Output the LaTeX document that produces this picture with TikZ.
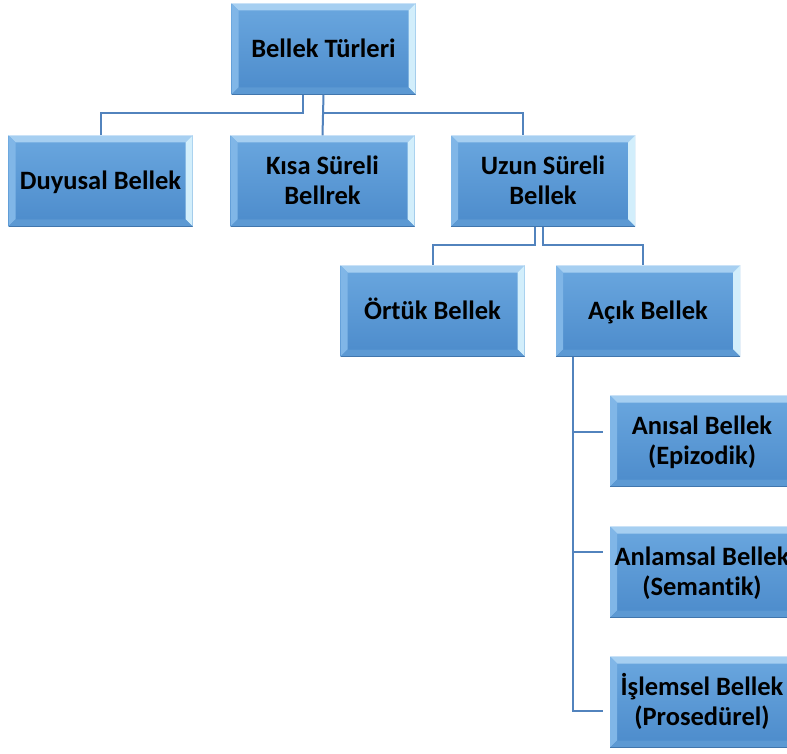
\documentclass[tikz,border=0pt]{standalone}
\usepackage{fontspec}
\setmainfont[RawFeature=-liga]{Carlito}
\definecolor{facetop}{HTML}{6AA7DF}
\definecolor{facebot}{HTML}{4C8BCB}
\definecolor{bvtop}{HTML}{A6CFF1}
\definecolor{bvleft}{HTML}{80B6E7}
\definecolor{bvright}{HTML}{D2EEFB}
\definecolor{bvbot}{HTML}{5C99D3}
\definecolor{conncol}{HTML}{5283BD}
\newcommand\bvbb{path picture bounding box}
\newcommand\lnst{\vphantom{Öçy()}}
\tikzset{
  membox/.style={rectangle, inner sep=0pt, minimum width=184pt, minimum height=91pt,
    align=center, font=\fontsize{26.5}{30}\selectfont\bfseries,
    top color=facetop, bottom color=facebot,
    path picture={
      \fill[bvtop] (\bvbb.north west) -- (\bvbb.north east) -- ([shift={(-7pt,-7pt)}]\bvbb.north east) -- ([shift={(7pt,-7pt)}]\bvbb.north west) -- cycle;
      \fill[bvleft] (\bvbb.north west) -- ([shift={(7pt,-7pt)}]\bvbb.north west) -- ([shift={(7pt,7pt)}]\bvbb.south west) -- (\bvbb.south west) -- cycle;
      \fill[bvright] (\bvbb.north east) -- ([shift={(-7pt,-7pt)}]\bvbb.north east) -- ([shift={(-7pt,7pt)}]\bvbb.south east) -- (\bvbb.south east) -- cycle;
      \fill[bvbot] (\bvbb.south west) -- ([shift={(7pt,7pt)}]\bvbb.south west) -- ([shift={(-7pt,7pt)}]\bvbb.south east) -- (\bvbb.south east) -- cycle;
      \draw[line width=1.2pt, bvtop!60!white] (\bvbb.north west) -- (\bvbb.north east);
      \draw[line width=1pt, facebot!85!black] (\bvbb.south west) -- (\bvbb.south east);
    }},
  conn/.style={draw=conncol, line width=2pt}
}
\begin{document}
\begin{tikzpicture}[x=1pt,y=-1pt]
\useasboundingbox (0,0) rectangle (787,754);
\clip (0,0) rectangle (787,754);
\fill[white] (0,0) rectangle (787,754);

\node[membox] (root) at (323.5,49) {\lnst Bellek Türleri};
\node[membox] (duy) at (100.5,181) {\lnst Duyusal Bellek};
\node[membox] (kisa) at (322.5,181) {\lnst Kısa Süreli\\\lnst Bellrek};
\node[membox] (uzun) at (543,181) {\lnst Uzun Süreli\\\lnst Bellek};
\node[membox] (ortuk) at (432.5,311) {\lnst Örtük Bellek};
\node[membox] (acik) at (648,311) {\lnst Açık Bellek};
\node[membox] (anisal) at (702,441) {\lnst Anısal Bellek\\\lnst (Epizodik)};
\node[membox] (anlam) at (702,572) {\lnst Anlamsal Bellek\\\lnst (Semantik)};
\node[membox] (islem) at (702,702) {\lnst İşlemsel Bellek\\\lnst (Prosedürel)};

% root connectors
\draw[conn] ([xshift=-20.5pt]root.south) -- ++(0,18) -| (duy.north);
\draw[conn] (root.south) -- (kisa.north);
\draw[conn] (root.south) ++(0,18) -| ([xshift=-20pt]uzun.north);

% uzun connectors
\draw[conn] ([xshift=-8pt]uzun.south) -- ++(0,18) -| (ortuk.north);
\draw[conn] (uzun.south) -- ++(0,18) -| ([xshift=-5pt]acik.north);

% acik connectors
\coordinate (spine) at ([xshift=17pt]acik.south west);
\draw[conn] (spine) |- ([xshift=-7pt,yshift=-9pt]islem.west);
\draw[conn] (spine |- anisal.west) ++(0,-9) -- ([xshift=-7pt,yshift=9pt]anisal.west);
\draw[conn] (spine |- anlam.west) ++(0,-20) -- ([xshift=-7pt,yshift=20pt]anlam.west);
\end{tikzpicture}
\end{document}
